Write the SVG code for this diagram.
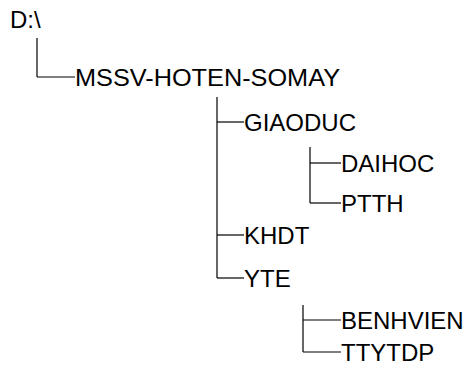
<svg xmlns="http://www.w3.org/2000/svg" width="470" height="373" viewBox="0 0 470 373">
<style>
text{font-family:"Liberation Sans",Arial,sans-serif;font-size:24px;fill:#000}
.c line{stroke:#000;stroke-width:1.2;fill:none}
</style>
<rect width="470" height="373" fill="#fff"/>
<g class="c" id="connectors">
<line x1="37" y1="38" x2="37" y2="77"/>
<line x1="37" y1="77" x2="75" y2="77"/>
<line x1="217" y1="97" x2="217" y2="278"/>
<line x1="217" y1="122" x2="244" y2="122"/>
<line x1="217" y1="235" x2="244" y2="235"/>
<line x1="217" y1="278" x2="244" y2="278"/>
<line x1="310" y1="147" x2="310" y2="203"/>
<line x1="310" y1="163" x2="341" y2="163"/>
<line x1="310" y1="203" x2="341" y2="203"/>
<line x1="303" y1="305" x2="303" y2="352"/>
<line x1="303" y1="320" x2="341" y2="320"/>
<line x1="303" y1="352" x2="341" y2="352"/>
</g>
<g id="root"><text x="10" y="28">D:\</text></g>
<g id="mssv"><text x="75" y="86" textLength="265" lengthAdjust="spacingAndGlyphs">MSSV-HOTEN-SOMAY</text></g>
<g id="giaoduc"><text x="244" y="131">GIAODUC</text></g>
<g id="daihoc"><text x="341" y="172">DAIHOC</text></g>
<g id="ptth"><text x="341" y="212">PTTH</text></g>
<g id="khdt"><text x="244" y="244">KHDT</text></g>
<g id="yte"><text x="244" y="287">YTE</text></g>
<g id="benhvien"><text x="341" y="329">BENHVIEN</text></g>
<g id="ttytdp"><text x="341" y="361">TTYTDP</text></g>
</svg>
